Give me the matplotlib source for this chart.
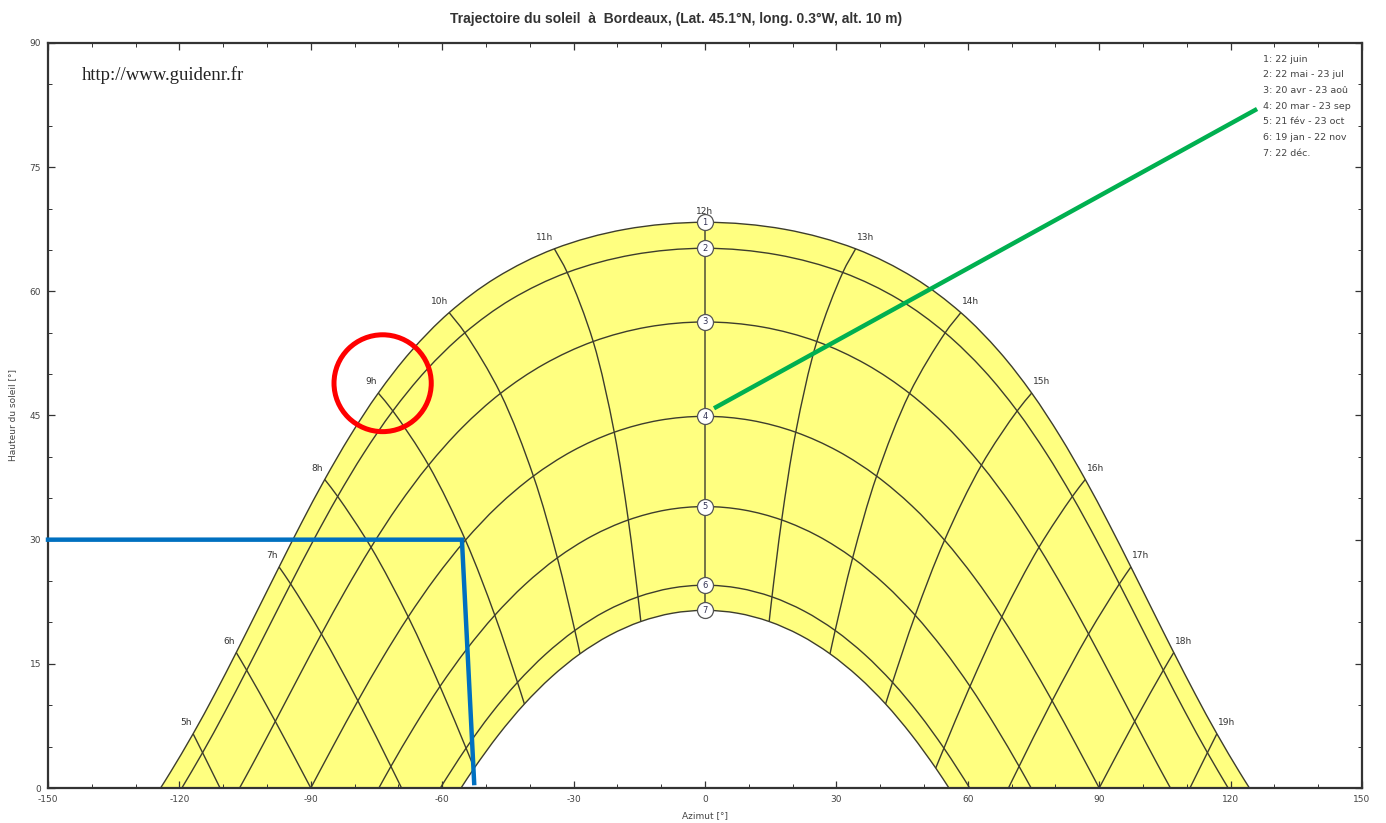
import numpy as np
import matplotlib
matplotlib.use("Agg")
import matplotlib.pyplot as plt
from matplotlib.patches import Ellipse, PathPatch
from matplotlib.path import Path
from matplotlib.ticker import MultipleLocator

plt.rcParams["axes.unicode_minus"] = False
nan = np.nan

# ---------------- data ----------------
hours = [4.5, 5.0, 5.5, 6.0, 6.5, 7.0, 7.5, 8.0, 8.5, 9.0, 9.5, 10.0, 10.5, 11.0, 11.5,
         12.0, 12.5, 13.0, 13.5, 14.0, 14.5, 15.0, 15.5, 16.0, 16.5, 17.0, 17.5, 18.0,
         18.5, 19.0, 19.5]

az1 = [-122.01, -116.87, -111.90, -107.02, -102.16, -97.24, -92.17, -86.82, -81.03, -74.59,
       -67.20, -58.41, -47.68, -34.39, -18.23, 0.0, 18.23, 34.39, 47.68, 58.41, 67.20, 74.59,
       81.03, 86.82, 92.17, 97.24, 102.16, 107.02, 111.90, 116.87, 122.01]
alt1 = [1.94, 6.55, 11.37, 16.37, 21.49, 26.70, 31.98, 37.27, 42.53, 47.71, 52.71, 57.43,
        61.65, 65.14, 67.49, 68.34, 67.49, 65.14, 61.65, 57.43, 52.71, 47.71, 42.53, 37.27,
        31.98, 26.70, 21.49, 16.37, 11.37, 6.55, 1.94]

az2 = [nan, -114.71, -109.63, -104.64, -99.65, -94.60, -89.38, -83.87, -77.90, -71.27, -63.70,
       -54.83, -44.22, -31.46, -16.48, 0.0, 16.48, 31.46, 44.22, 54.83, 63.70, 71.27, 77.90,
       83.87, 89.38, 94.60, 99.65, 104.64, 109.63, 114.71, nan]
alt2 = [nan, 4.27, 9.17, 14.23, 19.40, 24.65, 29.94, 35.22, 40.45, 45.55, 50.44, 54.99, 59.04,
        62.28, 64.42, 65.20, 64.42, 62.28, 59.04, 54.99, 50.44, 45.55, 40.45, 35.22, 29.94,
        24.65, 19.40, 14.23, 9.17, 4.27, nan]

az3 = [nan, nan, -103.32, -98.10, -92.88, -87.57, -82.07, -76.25, -70.00, -63.11, -55.42,
       -46.70, -36.77, -25.53, -13.12, 0.0, 13.12, 25.53, 36.77, 46.70, 55.42, 63.11, 70.00,
       76.25, 82.07, 87.57, 92.88, 98.10, 103.32, nan, nan]
alt3 = [nan, nan, 2.85, 8.05, 13.32, 18.61, 23.88, 29.08, 34.14, 39.00, 43.55, 47.67, 51.19,
        53.94, 55.69, 56.30, 55.69, 53.94, 51.19, 47.67, 43.55, 39.00, 34.14, 29.08, 23.88,
        18.61, 13.32, 8.05, 2.85, nan, nan]

az4 = [nan, nan, nan, -90.00, -84.67, -79.25, -73.65, -67.76, -61.47, -54.69, -47.29, -39.18,
       -30.32, -20.72, -10.53, 0.0, 10.53, 20.72, 30.32, 39.18, 47.29, 54.69, 61.47, 67.76,
       73.65, 79.25, 84.67, 90.00, nan, nan, nan]
alt4 = [nan, nan, nan, 0.00, 5.29, 10.53, 15.67, 20.67, 25.45, 29.94, 34.06, 37.68, 40.70,
        42.98, 44.41, 44.90, 44.41, 42.98, 40.70, 37.68, 34.06, 29.94, 25.45, 20.67, 15.67,
        10.53, 5.29, 0.00, nan, nan, nan]

az5 = [nan, nan, nan, nan, nan, -71.71, -66.22, -60.50, -54.44, -47.99, -41.10, -33.71,
       -25.83, -17.51, -8.85, 0.0, 8.85, 17.51, 25.83, 33.71, 41.10, 47.99, 54.44, 60.50,
       66.22, 71.71, nan, nan, nan, nan, nan]
alt5 = [nan, nan, nan, nan, nan, 2.61, 7.54, 12.28, 16.74, 20.87, 24.58, 27.80, 30.43, 32.38,
        33.59, 34.00, 33.59, 32.38, 30.43, 27.80, 24.58, 20.87, 16.74, 12.28, 7.54, 2.61,
        nan, nan, nan, nan, nan]

az6 = [nan, nan, nan, nan, nan, nan, -60.01, -54.55, -48.83, -42.81, -36.44, -29.72, -22.65,
       -15.29, -7.70, 0.0, 7.70, 15.29, 22.65, 29.72, 36.44, 42.81, 48.83, 54.55, 60.01,
       nan, nan, nan, nan, nan, nan]
alt6 = [nan, nan, nan, nan, nan, nan, 0.36, 4.81, 8.97, 12.76, 16.14, 19.03, 21.37, 23.09,
        24.14, 24.50, 24.14, 23.09, 21.37, 19.03, 16.14, 12.76, 8.97, 4.81, 0.36,
        nan, nan, nan, nan, nan, nan]

az7 = [nan, nan, nan, nan, nan, nan, nan, -52.68, -47.09, -41.23, -35.04, -28.54, -21.73,
       -14.65, -7.38, 0.0, 7.38, 14.65, 21.73, 28.54, 35.04, 41.23, 47.09, 52.68,
       nan, nan, nan, nan, nan, nan, nan]
alt7 = [nan, nan, nan, nan, nan, nan, nan, 2.41, 6.46, 10.15, 13.42, 16.21, 18.46, 20.11,
        21.12, 21.46, 21.12, 20.11, 18.46, 16.21, 13.42, 10.15, 6.46, 2.41,
        nan, nan, nan, nan, nan, nan, nan]

sunrise_az = [-124.30, -119.44, -106.26, -90.00, -74.46, -60.41, -55.70]
sunset_az = [124.30, 119.44, 106.26, 90.00, 74.46, 60.41, 55.70]

# hour lines that end on the horizon
horizon_hours = [5, 7, 17, 19]
horizon_az = [-110.72, -69.28, 69.28, 110.72]

hour_labels = [5, 6, 7, 8, 9, 10, 11, 12, 13, 14, 15, 16, 17, 18, 19]

legend_lines = ["1: 22 juin", "2: 22 mai - 23 jul", "3: 20 avr - 23 aoû",
                "4: 20 mar - 23 sep", "5: 21 fév - 23 oct", "6: 19 jan - 22 nov",
                "7: 22 déc."]

title = "Trajectoire du soleil  à  Bordeaux, (Lat. 45.1°N, long. 0.3°W, alt. 10 m)"

# overlay annotations (drawn on the original picture)
red_circle_center = (-73.6, 48.9)
red_circle_size = (22.2, 11.7)
blue_x = [-150, -55.5, -52.7]
blue_y = [30, 30, 0.6]
green_x = [2.5, 125.6]
green_y = [46.0, 81.9]

# ---------------- figure ----------------
all_az = [az1, az2, az3, az4, az5, az6, az7]
all_alt = [alt1, alt2, alt3, alt4, alt5, alt6, alt7]

fig = plt.figure(figsize=(13.86, 8.23), dpi=100)
ax = fig.add_axes([48 / 1386, 1 - 788 / 823, 1314 / 1386, 745 / 823])
ax.set_xlim(-150, 150)
ax.set_ylim(0, 90)
LINE = "#3d3d2d"
SX, SY = 1314 / 300.0, 745 / 90.0   # pixel per data unit, for smooth rendering


def smooth_verts(xs, ys, first_code=Path.MOVETO):
    """Smooth (centripetal Catmull-Rom rendered as cubic Bezier) path through the points."""
    P = np.column_stack([xs, ys]).astype(float)
    n = len(P)
    verts = [tuple(P[0])]
    codes = [first_code]
    if n < 3:
        for p in P[1:]:
            verts.append(tuple(p))
            codes.append(Path.LINETO)
        return verts, codes
    ext = np.vstack([2 * P[0] - P[1], P, 2 * P[-1] - P[-2]])

    def dist(a, b):
        return max(np.hypot((a[0] - b[0]) * SX, (a[1] - b[1]) * SY), 1e-6) ** 0.5

    for i in range(1, n):
        p0, p1, p2, p3 = ext[i - 1], ext[i], ext[i + 1], ext[i + 2]
        d1, d2, d3 = dist(p0, p1), dist(p1, p2), dist(p2, p3)
        b1 = (d1 ** 2 * p2 - d2 ** 2 * p0 + (2 * d1 ** 2 + 3 * d1 * d2 + d2 ** 2) * p1) / (
            3 * d1 * (d1 + d2))
        b2 = (d3 ** 2 * p1 - d2 ** 2 * p3 + (2 * d3 ** 2 + 3 * d3 * d2 + d2 ** 2) * p2) / (
            3 * d3 * (d3 + d2))
        verts += [tuple(b1), tuple(b2), tuple(p2)]
        codes += [Path.CURVE4] * 3
    return verts, codes


def day_curve(i):
    az = np.array(all_az[i])
    alt = np.array(all_alt[i])
    m = ~np.isnan(alt)
    x = np.concatenate([[sunrise_az[i]], az[m], [sunset_az[i]]])
    y = np.concatenate([[0.0], alt[m], [0.0]])
    return x, y


# yellow band between 22 June and 22 December
tx, ty = day_curve(0)
bx, by = day_curve(6)
v1, c1 = smooth_verts(tx, ty)
v2, c2 = smooth_verts(bx[::-1], by[::-1], first_code=Path.LINETO)
band = Path(v1 + v2 + [v1[0]], c1 + c2 + [Path.CLOSEPOLY])
ax.add_patch(PathPatch(band, facecolor="#FFFF80", edgecolor="none", zorder=1))

# day curves
for i in range(7):
    x, y = day_curve(i)
    v, c = smooth_verts(x, y)
    ax.add_patch(PathPatch(Path(v, c), facecolor="none", edgecolor=LINE, lw=1.0, zorder=2))

# hour lines
for h in hour_labels:
    k = hours.index(float(h))
    xs, ys = [], []
    for i in range(7):
        if not np.isnan(all_alt[i][k]):
            xs.append(all_az[i][k])
            ys.append(all_alt[i][k])
    if h in horizon_hours:
        xs.append(horizon_az[horizon_hours.index(h)])
        ys.append(0.0)
    v, c = smooth_verts(xs, ys)
    ax.add_patch(PathPatch(Path(v, c), facecolor="none", edgecolor=LINE, lw=1.0, zorder=2))
    # label
    if h < 12:
        ha, dx = "right", -1
    elif h > 12:
        ha, dx = "left", 1
    else:
        ha, dx = "center", 0
    ax.annotate(f"{h}h", (az1[k], alt1[k]), xytext=(dx, 8), textcoords="offset points",
                ha=ha, va="center", fontsize=6.5, color="#333333", zorder=3)

# numbered circles at noon
k12 = hours.index(12.0)
for i in range(7):
    ax.plot(0, all_alt[i][k12], "o", ms=11.5, mfc="white", mec="#555555", mew=0.9, zorder=4)
    ax.text(0, all_alt[i][k12], str(i + 1), fontsize=6, ha="center", va="center",
            color="#333355", zorder=5)

# texts
ax.text(0.026, 0.957, "http://www.guidenr.fr", transform=ax.transAxes,
        fontfamily="Liberation Serif", fontsize=13.5, color="#222222", va="center", ha="left")
for j, s in enumerate(legend_lines):
    ax.text(0.9247, 0.9785 - j * 0.0211, s, transform=ax.transAxes, fontsize=6.8,
            color="#444444", va="center", ha="left")
fig.text(676 / 1386, 1 - 19 / 823, title, ha="center", va="center", fontsize=10,
         fontweight="bold", color="#333333", fontfamily="Liberation Sans")

# axes
ax.xaxis.set_major_locator(MultipleLocator(30))
ax.xaxis.set_minor_locator(MultipleLocator(10))
ax.yaxis.set_major_locator(MultipleLocator(15))
ax.yaxis.set_minor_locator(MultipleLocator(5))
ax.tick_params(which="both", direction="in", top=True, right=True, colors="#333333",
               labelsize=6.5, labelcolor="#444444", pad=5)
ax.tick_params(which="major", length=5, width=0.9)
ax.tick_params(which="minor", length=3, width=0.7)
for sp in ax.spines.values():
    sp.set_linewidth(1.6)
    sp.set_color("#333333")
ax.set_xlabel("Azimut [°]", fontsize=6.5, color="#444444")
ax.set_ylabel("Hauteur du soleil [°]", fontsize=6.5, color="#444444")
ax.xaxis.set_label_coords(0.5, -0.031)
ax.yaxis.set_label_coords(-0.0236, 0.5)

# overlay annotations
ax.add_patch(Ellipse(red_circle_center, red_circle_size[0], red_circle_size[1], fill=False,
                     ec="#FF0000", lw=3.6, zorder=6, clip_on=False))
ax.plot(blue_x, blue_y, color="#0070C0", lw=3.2, zorder=6, solid_joinstyle="miter",
        clip_on=False)
ax.plot(green_x, green_y, color="#00B050", lw=3.2, zorder=6, clip_on=False)

fig.savefig("out.png", dpi=100, facecolor="white")
